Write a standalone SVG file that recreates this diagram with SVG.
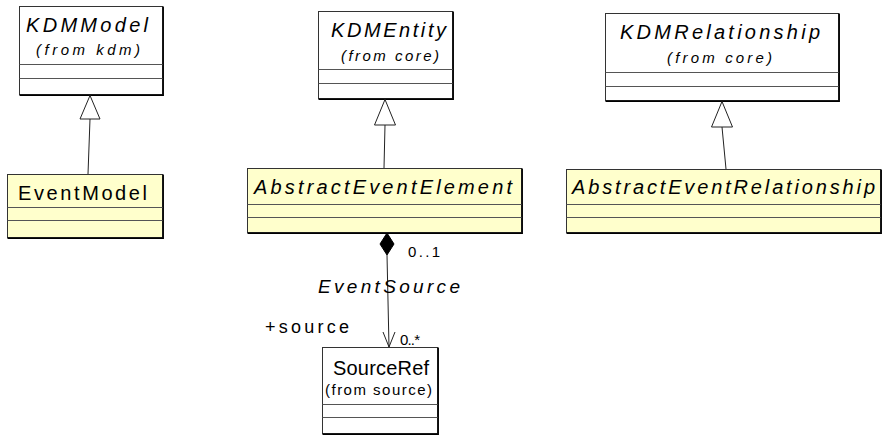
<svg xmlns="http://www.w3.org/2000/svg" width="883" height="435" viewBox="0 0 883 435">
<style>
text{font-family:"Liberation Sans",Arial,sans-serif;fill:#000}
.box{stroke:#333;stroke-width:1}
.w{fill:#fff}
.y{fill:#ffffcc}
.sh{stroke:#000;stroke-width:1.5;fill:none}
.div{stroke:#555;stroke-width:1}
.nm{font-size:20px}
.it{font-style:italic}
.frm{font-size:15px}
.lbl{font-size:15px}
.big{font-size:19px}
.mid{font-size:18px}
.edge{stroke:#222;stroke-width:1;fill:none}
.gen{fill:#fff;stroke:#222;stroke-width:1}
</style>
<rect width="883" height="435" fill="#fff"/>
<g id="KDMModel">
<rect class="box w" x="19.5" y="6.5" width="143" height="88"/>
<path class="sh" d="M19.5 95.2H163.2V6.5"/>
<line class="div" x1="19.5" y1="64.5" x2="162.5" y2="64.5"/>
<line class="div" x1="19.5" y1="78.5" x2="162.5" y2="78.5"/>
<text class="nm it" x="26" y="32" textLength="122" lengthAdjust="spacing">KDMModel</text>
<text class="frm it" x="36" y="55" textLength="104" lengthAdjust="spacing">(from kdm)</text>
</g>
<g id="EventModel">
<rect class="box y" x="7.5" y="174.5" width="155" height="63"/>
<path class="sh" d="M7.5 238.2H163.2V174.5"/>
<line class="div" x1="7.5" y1="207.5" x2="162.5" y2="207.5"/>
<line class="div" x1="7.5" y1="220.5" x2="162.5" y2="220.5"/>
<text class="nm" x="18" y="200" textLength="129" lengthAdjust="spacing">EventModel</text>
</g>
<g id="KDMEntity">
<rect class="box w" x="318.5" y="11.5" width="134" height="87"/>
<path class="sh" d="M318.5 99.2H453.2V11.5"/>
<line class="div" x1="318.5" y1="69.5" x2="452.5" y2="69.5"/>
<line class="div" x1="318.5" y1="83.5" x2="452.5" y2="83.5"/>
<text class="nm it" x="331" y="37" textLength="115" lengthAdjust="spacing">KDMEntity</text>
<text class="frm it" x="341" y="61" textLength="98" lengthAdjust="spacing">(from core)</text>
</g>
<g id="AbstractEventElement">
<rect class="box y" x="247.5" y="168.5" width="274" height="64"/>
<path class="sh" d="M247.5 233.2H522.2V168.5"/>
<line class="div" x1="247.5" y1="204.5" x2="521.5" y2="204.5"/>
<line class="div" x1="247.5" y1="217.5" x2="521.5" y2="217.5"/>
<text class="nm it" x="254" y="194" textLength="258" lengthAdjust="spacing">AbstractEventElement</text>
</g>
<g id="KDMRelationship">
<rect class="box w" x="605.5" y="13.5" width="233" height="87"/>
<path class="sh" d="M605.5 101.2H839.2V13.5"/>
<line class="div" x1="605.5" y1="72.5" x2="838.5" y2="72.5"/>
<line class="div" x1="605.5" y1="86.5" x2="838.5" y2="86.5"/>
<text class="nm it" x="620" y="39" textLength="200" lengthAdjust="spacing">KDMRelationship</text>
<text class="frm it" x="667" y="63" textLength="105" lengthAdjust="spacing">(from core)</text>
</g>
<g id="AbstractEventRelationship">
<rect class="box y" x="566.5" y="169.5" width="314" height="63"/>
<path class="sh" d="M566.5 233.2H881.2V169.5"/>
<line class="div" x1="566.5" y1="204.5" x2="880.5" y2="204.5"/>
<line class="div" x1="566.5" y1="217.5" x2="880.5" y2="217.5"/>
<text class="nm it" x="572" y="194" textLength="303" lengthAdjust="spacing">AbstractEventRelationship</text>
</g>
<g id="SourceRef">
<rect class="box w" x="322.5" y="347.5" width="115" height="86"/>
<path class="sh" d="M322.5 434.2H438.2V347.5"/>
<line class="div" x1="322.5" y1="404.5" x2="437.5" y2="404.5"/>
<line class="div" x1="322.5" y1="417.5" x2="437.5" y2="417.5"/>
<text class="nm" x="333" y="375" textLength="96" lengthAdjust="spacing">SourceRef</text>
<text class="frm" x="325" y="395" textLength="107" lengthAdjust="spacing">(from source)</text>
</g>
<g id="connectors">
<line class="edge" x1="90" y1="119" x2="88" y2="174"/>
<polygon class="gen" points="90,95.5 80,119 100,119"/>
<line class="edge" x1="385" y1="125" x2="384" y2="168"/>
<polygon class="gen" points="385,99.5 374.5,125 395.5,125"/>
<line class="edge" x1="722" y1="127" x2="726" y2="169"/>
<polygon class="gen" points="722,101.5 711.5,127 732.5,127"/>
<line class="edge" x1="387" y1="255" x2="389" y2="347"/>
<polygon points="387,233 394,244 387,255 380,244" fill="#000" stroke="#000" stroke-width="1"/>
<polyline class="edge" points="383,332 389,347 395,332"/>
<text class="lbl" x="408" y="257" textLength="32" lengthAdjust="spacing">0..1</text>
<text class="big it" x="318" y="293" textLength="142" lengthAdjust="spacing">EventSource</text>
<text class="mid" x="265" y="333" textLength="84" lengthAdjust="spacing">+source</text>
<text class="lbl" x="400" y="345" textLength="20" lengthAdjust="spacing">0..*</text>
</g>
</svg>
